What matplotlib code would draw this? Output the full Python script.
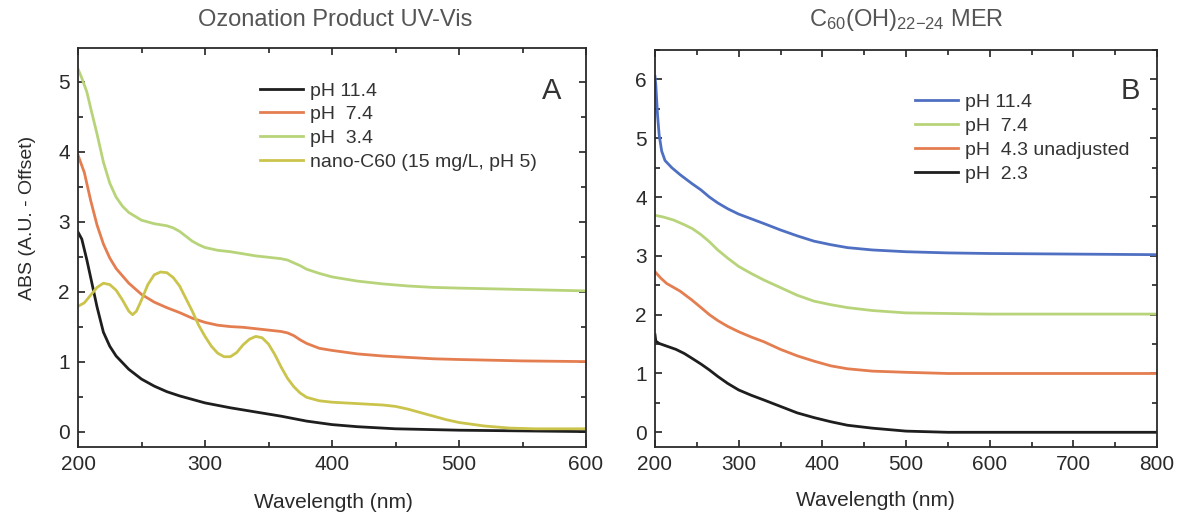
import matplotlib
matplotlib.use("Agg")
import matplotlib.pyplot as plt
from matplotlib.ticker import MultipleLocator

plt.rcParams['font.family'] = ['Liberation Sans', 'DejaVu Sans']
plt.rcParams['mathtext.fontset'] = 'custom'
plt.rcParams['mathtext.rm'] = 'Liberation Sans'
plt.rcParams['mathtext.it'] = 'Liberation Sans'

# ---------------- Panel A data ----------------
a_black_x = [200, 203, 207, 210, 215, 220, 225, 230, 240, 250, 260, 270, 280, 290, 300,
             320, 340, 360, 380, 400, 420, 450, 500, 550, 600]
a_black_y = [2.85, 2.75, 2.45, 2.2, 1.78, 1.42, 1.22, 1.08, 0.89, 0.75, 0.65, 0.57, 0.51, 0.46, 0.41,
             0.34, 0.28, 0.22, 0.15, 0.10, 0.07, 0.04, 0.02, 0.01, 0.0]

a_orange_x = [200, 205, 210, 215, 220, 225, 230, 240, 250, 260, 270, 280, 290, 300, 310, 320,
              330, 340, 350, 360, 365, 370, 375, 380, 390, 400, 420, 440, 460, 480, 500, 550, 600]
a_orange_y = [3.95, 3.7, 3.3, 2.95, 2.68, 2.48, 2.33, 2.12, 1.96, 1.85, 1.77, 1.70, 1.62, 1.56, 1.52, 1.50,
              1.49, 1.47, 1.45, 1.43, 1.41, 1.37, 1.31, 1.26, 1.19, 1.16, 1.11, 1.08, 1.06, 1.04, 1.03, 1.01, 1.0]

a_green_x = [200, 203, 207, 210, 215, 220, 225, 230, 235, 240, 250, 260, 270, 275, 280, 285, 290,
             295, 300, 310, 320, 330, 340, 350, 360, 365, 370, 375, 380, 390, 400, 420, 440, 460,
             480, 500, 550, 600]
a_green_y = [5.18, 5.05, 4.85, 4.62, 4.25, 3.85, 3.55, 3.35, 3.22, 3.13, 3.02, 2.97, 2.94, 2.91, 2.86,
             2.79, 2.72, 2.67, 2.63, 2.59, 2.57, 2.54, 2.51, 2.49, 2.47, 2.45, 2.41, 2.37, 2.32, 2.26,
             2.21, 2.15, 2.11, 2.08, 2.06, 2.05, 2.03, 2.01]

a_nano_x = [200, 205, 210, 215, 220, 225, 230, 235, 240, 243, 246, 250, 255, 260, 265, 270, 275,
            280, 285, 290, 295, 300, 305, 310, 315, 320, 325, 330, 335, 340, 345, 350, 355, 360,
            365, 370, 375, 380, 390, 400, 420, 440, 450, 460, 470, 480, 490, 500, 520, 540, 560,
            580, 600]
a_nano_y = [1.79, 1.84, 1.95, 2.06, 2.12, 2.10, 2.02, 1.88, 1.72, 1.67, 1.72, 1.88, 2.10, 2.24,
            2.28, 2.27, 2.20, 2.08, 1.90, 1.72, 1.52, 1.36, 1.22, 1.12, 1.07, 1.07, 1.13, 1.24,
            1.32, 1.36, 1.34, 1.25, 1.10, 0.92, 0.76, 0.64, 0.55, 0.49, 0.44, 0.42, 0.40, 0.38,
            0.36, 0.32, 0.27, 0.22, 0.17, 0.13, 0.08, 0.05, 0.04, 0.04, 0.04]

a_labels = ["pH 11.4", "pH  7.4", "pH  3.4", "nano-C60 (15 mg/L, pH 5)"]

# ---------------- Panel B data ----------------
b_blue_x = [200, 201, 203, 205, 208, 212, 220, 230, 244, 255, 265, 275, 287, 300, 315, 330, 350,
            370, 390, 410, 430, 460, 500, 550, 600, 700, 800]
b_blue_y = [6.05, 5.9, 5.4, 5.05, 4.78, 4.62, 4.5, 4.38, 4.23, 4.12, 4.0, 3.9, 3.8, 3.71, 3.63,
            3.55, 3.44, 3.34, 3.25, 3.19, 3.14, 3.10, 3.07, 3.05, 3.04, 3.03, 3.02]

b_green_x = [200, 210, 222, 235, 245, 255, 265, 275, 287, 300, 315, 330, 350, 370, 390, 410, 430,
             460, 500, 550, 600, 800]
b_green_y = [3.69, 3.66, 3.61, 3.53, 3.46, 3.36, 3.24, 3.10, 2.96, 2.82, 2.70, 2.59, 2.46, 2.33,
             2.23, 2.17, 2.12, 2.07, 2.03, 2.02, 2.01, 2.01]

b_orange_x = [200, 207, 214, 230, 244, 255, 265, 275, 287, 300, 315, 330, 350, 370, 390, 410, 430,
              460, 500, 550, 800]
b_orange_y = [2.73, 2.62, 2.53, 2.40, 2.25, 2.12, 2.0, 1.90, 1.80, 1.71, 1.62, 1.54, 1.41, 1.30,
              1.21, 1.13, 1.08, 1.04, 1.02, 1.0, 1.0]

b_black_x = [200, 201, 205, 215, 225, 235, 244, 255, 265, 275, 287, 300, 315, 330, 350, 370, 390,
             410, 430, 460, 500, 550, 800]
b_black_y = [1.66, 1.55, 1.51, 1.46, 1.41, 1.34, 1.26, 1.16, 1.06, 0.95, 0.83, 0.72, 0.63, 0.55,
             0.44, 0.33, 0.25, 0.18, 0.12, 0.07, 0.02, 0.0, 0.0]

b_labels = ["pH 11.4", "pH  7.4", "pH  4.3 unadjusted", "pH  2.3"]

# colours
C_BLACK = "#1e1e1e"
C_ORANGE = "#e47d50"
C_GREEN = "#b8d47a"
C_OLIVE = "#cbc44c"
C_BLUE = "#4f70c2"
TXT = "#2a2a2a"

W, H = 1189, 518
fig = plt.figure(figsize=(W / 100, H / 100), dpi=100)

axA = fig.add_axes([78 / W, 1 - 447 / H, 508 / W, 399 / H])
axB = fig.add_axes([655 / W, 1 - 447 / H, 502 / W, 397 / H])

lw = 2.0
axA.plot(a_black_x, a_black_y, color=C_BLACK, lw=lw, label=a_labels[0])
axA.plot(a_orange_x, a_orange_y, color=C_ORANGE, lw=lw, label=a_labels[1])
axA.plot(a_green_x, a_green_y, color=C_GREEN, lw=lw, label=a_labels[2])
axA.plot(a_nano_x, a_nano_y, color=C_OLIVE, lw=lw, label=a_labels[3])

axB.plot(b_blue_x, b_blue_y, color=C_BLUE, lw=lw, label=b_labels[0])
axB.plot(b_green_x, b_green_y, color=C_GREEN, lw=lw, label=b_labels[1])
axB.plot(b_orange_x, b_orange_y, color=C_ORANGE, lw=lw, label=b_labels[2])
axB.plot(b_black_x, b_black_y, color=C_BLACK, lw=lw, label=b_labels[3])

axA.set_xlim(200, 600)
axA.set_ylim(-0.22, 5.48)
axB.set_xlim(200, 800)
axB.set_ylim(-0.25, 6.5)

for ax in (axA, axB):
    ax.xaxis.set_major_locator(MultipleLocator(100))
    ax.xaxis.set_minor_locator(MultipleLocator(50))
    ax.yaxis.set_major_locator(MultipleLocator(1))
    ax.yaxis.set_minor_locator(MultipleLocator(0.5))
    ax.tick_params(which='both', direction='in', top=True, right=True,
                   color='#222222', width=1.2)
    ax.tick_params(which='major', length=5, labelsize=15, labelcolor=TXT, pad=6)
    ax.tick_params(which='minor', length=3.5)
    for s in ax.spines.values():
        s.set_linewidth(1.3)
        s.set_color('#2a2a2a')

legA = axA.legend(loc='upper left', bbox_to_anchor=((260 - 78) / 508, (447 - 82) / 399),
                  frameon=False, fontsize=14, handlelength=2.2, handletextpad=0.35,
                  labelspacing=0.31, borderpad=0, borderaxespad=0)
for t in legA.get_texts():
    t.set_color('#333333')

legB = axB.legend(loc='upper left', bbox_to_anchor=((915 - 655) / 502, (447 - 93) / 397),
                  frameon=False, fontsize=14, handlelength=2.2, handletextpad=0.35,
                  labelspacing=0.33, borderpad=0, borderaxespad=0)
for t in legB.get_texts():
    t.set_color('#333333')

fig.text(552 / W, 1 - 91 / H, "A", fontsize=21, color='#333333', ha='center', va='center')
fig.text(1130 / W, 1 - 91 / H, "B", fontsize=21, color='#333333', ha='center', va='center')

fig.text(335 / W, 1 - 20 / H, "Ozonation Product UV-Vis", fontsize=17, color='#555555',
         ha='center', va='center')
fig.text(906 / W, 1 - 20 / H, r"C$_{60}$(OH)$_{22\mathrm{-}24}$ MER", fontsize=17, color='#555555',
         ha='center', va='center')

fig.text(333 / W, 1 - 502 / H, "Wavelength (nm)", fontsize=15, color=TXT, ha='center', va='center')
fig.text(875 / W, 1 - 500 / H, "Wavelength (nm)", fontsize=15, color=TXT, ha='center', va='center')
fig.text(28 / W, 1 - 218 / H, "ABS (A.U. - Offset)", fontsize=14, color=TXT, ha='center',
         va='center', rotation=90)

fig.savefig("out.png", dpi=100)
